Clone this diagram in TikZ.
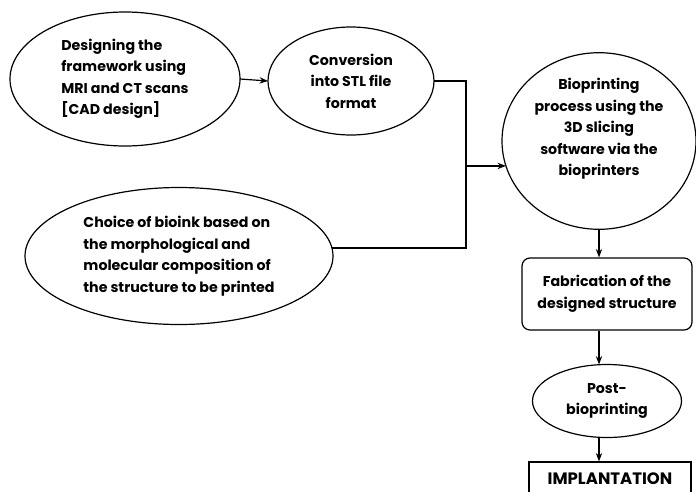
\documentclass[tikz,border=0pt]{standalone}
\usepackage{fontspec}
\setmainfont{Poppins}
\usetikzlibrary{arrows.meta, positioning, calc, shapes.geometric}
\tikzset{
    flow/.style={>=Stealth, line width=1.2pt, font=\bfseries\fontsize{14.2}{21.5}\selectfont, x=1pt, y=-1pt},
    oval/.style={draw, ellipse, inner sep=0pt, outer sep=0pt, align=center},
    ovalleft/.style={oval, align=left},
    stepbox/.style={draw, rounded corners=8pt, inner sep=0pt, align=center},
    endbox/.style={draw, inner sep=0pt, font=\bfseries\fontsize{16.5}{20}\selectfont},
}
\begin{document}
\begin{tikzpicture}[flow]
    \useasboundingbox (0,0) rectangle (696,491);
    \node[ovalleft, minimum width=230pt, minimum height=134pt] (design) at (125,79)
        {Designing the\\framework using\\MRI and CT scans\\{[}CAD design{]}\hspace*{8pt}};
    \node[oval, minimum width=166pt, minimum height=108pt] (conv) at (351,81)
        {Conversion\\into STL file\\format};
    \node[ovalleft, minimum width=308pt, minimum height=137pt] (choice) at (179,256)
        {Choice of bioink based on\\the morphological and\\molecular composition of\\the structure to be printed};
    \node[oval, minimum width=194pt, minimum height=172pt] (bio) at (599,141)
        {Bioprinting\\process using the\\3D slicing\\software via the\\bioprinters\\[6pt]};
    \node[stepbox, minimum width=170pt, minimum height=72pt] (fab) at (607,294)
        {Fabrication of the\\designed structure};
    \node[oval, minimum width=149pt, minimum height=73pt] (post) at (607,401)
        {Post-\\bioprinting};
    \node[endbox, minimum width=162pt, minimum height=34pt] (impl) at (610,479)
        {IMPLANTATION};

    \coordinate (join) at ($(bio.195)+(-40,0)$);

    \draw[->] (design.east) -- (conv.west);
    \draw (conv.east) -| (join);
    \draw (choice.3) -| (join);
    \draw[->] (join) -- (bio.195);

    \draw[->] (bio.south) -- (bio.south |- fab.north);
    \draw[->] (bio.south |- fab.south) -- (bio.south |- post.north);
    \draw[->] (bio.south |- post.south) -- (bio.south |- impl.north);
\end{tikzpicture}
\end{document}
